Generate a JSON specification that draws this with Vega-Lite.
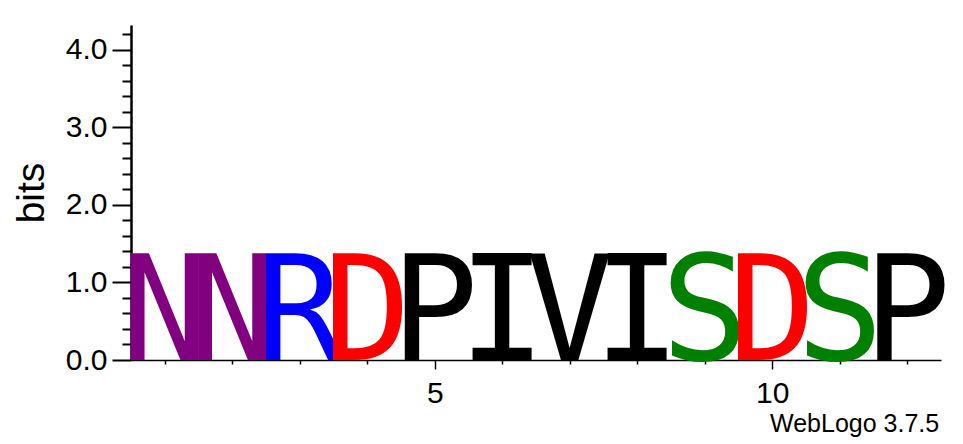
{
  "$schema": "https://vega.github.io/schema/vega-lite/v6.json",
  "description": "Sequence logo of a 12-residue motif, WebLogo style.",
  "autosize": "none",
  "padding": {"left": 131, "top": 25, "right": 22, "bottom": 84},
  "width": 810,
  "height": 335,
  "background": "white",
  "title": {
    "text": "WebLogo 3.7.5",
    "orient": "bottom",
    "anchor": "end",
    "font": "Liberation Sans",
    "fontSize": 25,
    "fontWeight": "normal",
    "color": "black",
    "offset": 4,
    "dx": -12
  },
  "data": {
    "values": [
      {"pos": 1, "residue": "N", "bits": 1.76},
      {"pos": 2, "residue": "N", "bits": 1.76},
      {"pos": 3, "residue": "R", "bits": 1.76},
      {"pos": 4, "residue": "D", "bits": 1.76},
      {"pos": 5, "residue": "P", "bits": 1.76},
      {"pos": 6, "residue": "I", "bits": 1.76},
      {"pos": 7, "residue": "V", "bits": 1.76},
      {"pos": 8, "residue": "I", "bits": 1.76},
      {"pos": 9, "residue": "S", "bits": 1.76},
      {"pos": 10, "residue": "D", "bits": 1.76},
      {"pos": 11, "residue": "S", "bits": 1.76},
      {"pos": 12, "residue": "P", "bits": 1.76}
    ]
  },
  "mark": {
    "type": "text",
    "font": "DejaVu Sans Mono",
    "baseline": "alphabetic",
    "align": "center"
  },
  "encoding": {
    "x": {
      "field": "pos",
      "type": "quantitative",
      "scale": {"domain": [0.5, 12.5], "nice": false, "zero": false},
      "axis": {
        "title": null,
        "grid": false,
        "values": [1, 2, 3, 4, 5, 6, 7, 8, 9, 10, 11, 12],
        "labelExpr": "datum.value % 5 === 0 ? datum.label : ''",
        "labelFont": "Liberation Sans",
        "labelFontSize": 30,
        "labelColor": "black",
        "labelPadding": 9,
        "labelFlush": false,
        "labelOverlap": false,
        "domainColor": "black",
        "domainWidth": 1.5,
        "tickColor": "black",
        "tickWidth": 1.5,
        "tickSize": {"condition": {"test": "datum.value % 5 === 0", "value": 9}, "value": 4}
      }
    },
    "y": {
      "datum": 0,
      "type": "quantitative",
      "scale": {"domain": [0, 4.32], "nice": false},
      "axis": {
        "title": "bits",
        "titleFont": "Liberation Sans",
        "titleFontSize": 39,
        "titleFontWeight": "normal",
        "titleColor": "black",
        "titlePadding": 14,
        "grid": false,
        "values": [0, 0.2, 0.4, 0.6, 0.8, 1, 1.2, 1.4, 1.6, 1.8, 2, 2.2, 2.4, 2.6, 2.8, 3, 3.2, 3.4, 3.6, 3.8, 4, 4.2],
        "labelExpr": "datum.value % 1 === 0 ? format(datum.value, '.1f') : ''",
        "labelFont": "Liberation Sans",
        "labelFontSize": 30,
        "labelColor": "black",
        "labelPadding": 5,
        "labelFlush": false,
        "labelOverlap": false,
        "domainColor": "black",
        "domainWidth": 2.5,
        "tickColor": "black",
        "tickWidth": 2,
        "tickSize": {"condition": {"test": "datum.value % 1 === 0", "value": 19}, "value": 9}
      }
    },
    "text": {"field": "residue", "type": "nominal"},
    "size": {
      "field": "bits",
      "type": "quantitative",
      "scale": {"domain": [0, 4.32], "range": [0, 358]},
      "legend": null
    },
    "color": {
      "field": "residue",
      "type": "nominal",
      "scale": {
        "domain": ["N", "R", "D", "P", "I", "V", "S"],
        "range": ["#800080", "#0000ff", "#ff0000", "#000000", "#000000", "#000000", "#008000"]
      },
      "legend": null
    }
  },
  "config": {"view": {"stroke": null}}
}
